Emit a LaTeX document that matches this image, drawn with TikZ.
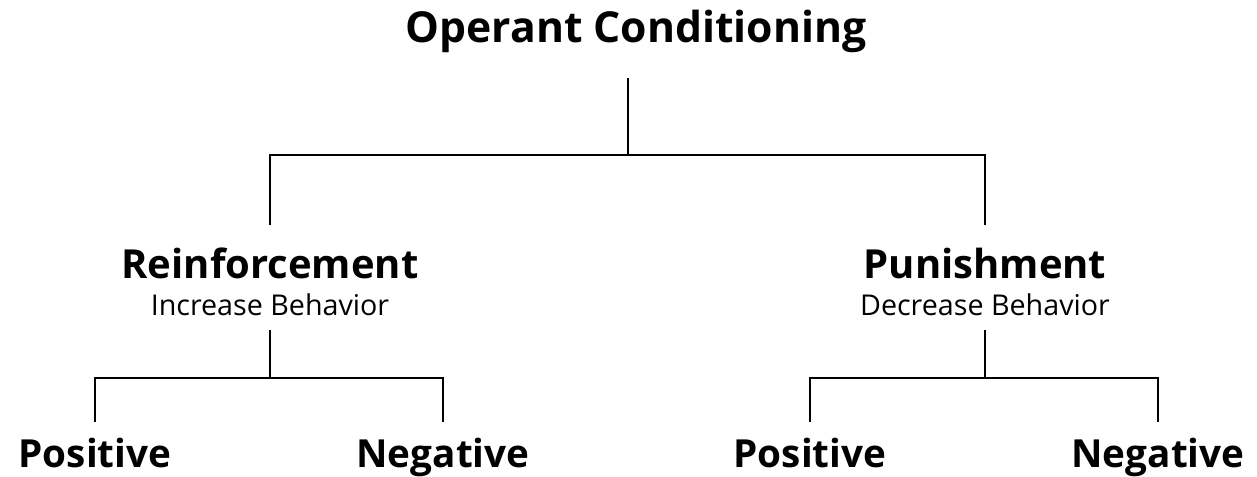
\documentclass[tikz,border=0pt]{standalone}
\usepackage{fontspec}
\setmainfont{Open Sans}
\usepackage{tikz}
\usetikzlibrary{positioning}

\begin{document}
\begin{tikzpicture}[x=0.75pt,y=-0.75pt,
    head/.style={font=\bfseries\fontsize{30}{30}\selectfont,inner sep=0pt,
                 anchor=base,text height=21pt,text depth=0pt},
    root/.style={head,font=\bfseries\fontsize{32}{32}\selectfont},
    leaf/.style={head,font=\bfseries\fontsize{29}{29}\selectfont,text height=20pt},
    note/.style={font=\fontsize{21.5}{21.5}\selectfont,inner sep=0pt,
                 anchor=base,text height=15pt,text depth=0pt},
    link/.style={line width=1.5pt}]
  \useasboundingbox (0,0) rectangle (1257,476);

  % top level
  \node[root] (oc) at (636,42) {Operant Conditioning};
  \coordinate (j0) at (628,155);

  % second level
  \node[head] (reinf) at (270,278) {Reinforcement};
  \node[note] (incr) at (270,315) {Increase Behavior};
  \node[head] (pun) at (985,278) {Punishment};
  \node[note] (decr) at (985,315) {Decrease Behavior};
  \coordinate (j1) at (270,378);
  \coordinate (j2) at (985,378);

  % third level
  \node[leaf] (rpos) at (95,467) {Positive};
  \node[leaf] (rneg) at (443,467) {Negative};
  \node[leaf] (ppos) at (810,467) {Positive};
  \node[leaf] (pneg) at (1158,467) {Negative};

  \draw[link,shorten >=27pt] (j0) -- (j0 |- oc.south);
  \draw[link,shorten <=18.75pt,shorten >=18.75pt] (reinf.north) |- (j0) -| (pun.north);

  \draw[link,shorten <=11.25pt] (incr.south) -- (j1);
  \draw[link,shorten <=11.25pt] (decr.south) -- (j2);
  \draw[link,shorten <=13.7pt,shorten >=13.7pt] (rpos.north) |- (j1) -| (rneg.north);
  \draw[link,shorten <=13.7pt,shorten >=13.7pt] (ppos.north) |- (j2) -| (pneg.north);
\end{tikzpicture}
\end{document}
